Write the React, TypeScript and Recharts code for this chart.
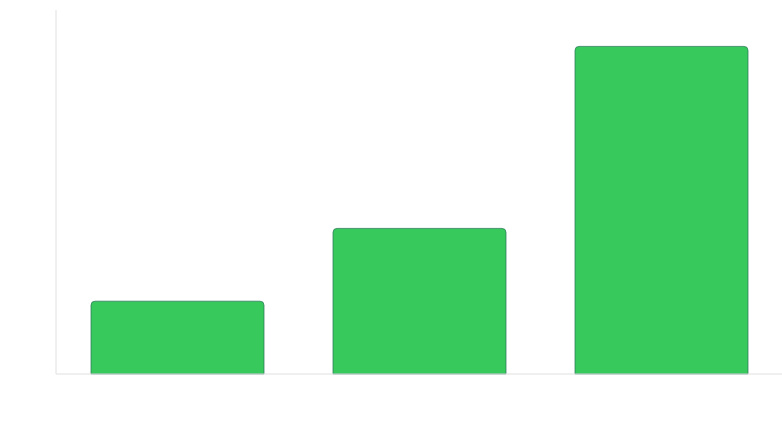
import { BarChart, Bar, XAxis, YAxis } from 'recharts'

const categories = ['A', 'B', 'C']
const values = [2, 4, 9]

const data = categories.map((name, i) => ({ name, value: values[i] }))

export default function App() {
  return (
    <div style={{ position: 'fixed', left: 0, top: 0, background: '#ffffff', width: 782, height: 425 }}>
      <BarChart width={782} height={425} data={data} margin={{ top: 10, right: 0, left: 0, bottom: 0 }}>
        <XAxis
          dataKey="name"
          tick={false}
          tickLine={false}
          stroke="#e0e0e0"
          height={51}
        />
        <YAxis
          domain={[0, 10]}
          tick={false}
          tickLine={false}
          stroke="#e0e0e0"
          width={56}
        />
        <Bar
          dataKey="value"
          fill="#37c95b"
          stroke="#2a7a5a"
          strokeOpacity={0.75}
          strokeWidth={1}
          barSize={173}
          radius={[4, 4, 0, 0]}
          isAnimationActive={false}
        />
      </BarChart>
    </div>
  )
}
